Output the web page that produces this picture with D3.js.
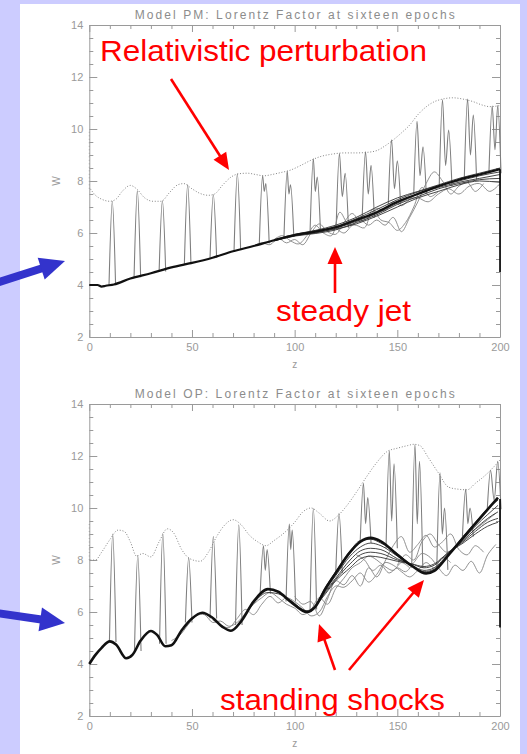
<!DOCTYPE html>
<html lang="en">
<head>
  <meta charset="UTF-8" />
  <title>Lorentz Factor at sixteen epochs</title>
  <script src="https://cdn.jsdelivr.net/npm/d3@7"></script>
  <style>
    body { margin: 0; background: #ccccff; }
    svg { display: block; }
    .axis text { font-family: "Liberation Sans", Arial, sans-serif; font-size: 11px; fill: #9a9a9a; }
    .axis path, .axis line { stroke: #9a9a9a; stroke-width: 1; }
  </style>
</head>
<body>
<svg id="chart" width="527" height="754"></svg>
<script>
// ---- ticks ----
const zTicks = [0, 50, 100, 150, 200];
const zMinorTicks = [10, 20, 30, 40, 60, 70, 80, 90, 110, 120, 130, 140, 160, 170, 180, 190];
const wTicks = [2, 4, 6, 8, 10, 12, 14];
const wMinorTicks = [2.5, 3, 3.5, 4.5, 5, 5.5, 6.5, 7, 7.5, 8.5, 9, 9.5, 10.5, 11, 11.5, 12.5, 13, 13.5];

const pmTitle = "Model PM: Lorentz Factor at sixteen epochs";
const opTitle = "Model OP: Lorentz Factor at sixteen epochs";

// ---- Model PM (top) ----
const pmEnvelope = [[0.5,7.7],[3,7.45],[6,7.3],[10,7.22],[13,7.3],[16,7.6],[20,7.83],[23,7.7],[27,7.35],[31,7.22],[35,7.22],[39,7.55],[43,7.85],[46,7.9],[50,7.7],[54,7.52],[58,7.45],[61,7.5],[65,7.85],[69,8.15],[73,8.28],[77,8.3],[81,8.25],[85,8.2],[89,8.25],[93,8.32],[98,8.42],[103,8.6],[108,8.8],[113,8.95],[118,9.03],[124,9.08],[130,9.08],[135,9.1],[140,9.17],[144,9.35],[148,9.58],[152,9.85],[156,10.15],[160,10.55],[164,10.85],[168,11.05],[172,11.15],[177,11.2],[182,11.15],[187,11.05],[191,10.93],[195,10.86],[200,10.9]];
const pmEnvelopeEdge = [[0, 7.7], [0, 9.9]];
const pmSteady = [[0,4.0],[4,4.0],[6,3.94],[8,3.97],[12,4.02],[20,4.25],[30,4.45],[40,4.68],[50,4.85],[60,5.05],[70,5.3],[80,5.5],[90,5.72],[100,5.92],[110,6.05],[120,6.22],[130,6.5],[140,6.8],[150,7.2],[160,7.5],[170,7.8],[180,8.05],[190,8.25],[200,8.45]];
const pmBand = [
  [[90,5.74],[100,5.95],[110,6.1],[120,6.3],[130,6.6],[140,7.0],[150,7.35],[160,7.6],[170,7.85],[180,8.1],[190,8.3],[200,8.5]],
  [[90,5.7],[100,5.9],[110,6.0],[120,6.18],[130,6.45],[140,6.75],[150,7.15],[160,7.5],[170,7.75],[180,7.95],[190,8.1],[200,8.25]],
  [[90,5.7],[100,5.88],[110,5.98],[120,6.12],[130,6.4],[140,6.7],[150,7.1],[160,7.4],[170,7.7],[180,7.9],[190,8.05],[200,8.1]],
  [[90,5.72],[100,5.9],[110,6.02],[120,6.15],[130,6.35],[140,6.65],[150,7.0],[160,7.35],[170,7.6],[180,7.85],[190,8.0],[200,7.95]],
  [[100,5.93],[110,6.08],[120,6.25],[130,6.55],[140,6.9],[150,7.28],[160,7.58],[170,7.82],[180,8.0],[190,8.2],[200,8.35]]
];
const pmWiggles = [
  [[80,5.5],[84,5.62],[88,5.55],[92,5.8],[96,5.62],[100,5.75],[104,5.55],[108,6.0],[112,6.35],[116,6.05],[120,5.95],[124,6.4],[128,6.75],[132,6.45],[136,6.6],[140,6.95],[144,6.85],[148,7.2],[152,7.05],[156,7.3],[160,7.55]],
  [[90,5.75],[94,5.9],[98,5.7],[102,5.58],[106,5.9],[110,6.3],[114,6.0],[118,5.9],[122,6.8],[126,6.35],[130,6.3],[134,6.2],[138,6.9],[142,6.5],[146,6.4],[150,6.1],[154,6.4],[158,7.0],[162,7.75],[166,7.4],[170,7.6]],
  [[120,6.2],[124,6.0],[128,6.3],[132,6.5],[136,6.3],[140,6.5],[144,6.3],[148,6.6],[152,6.05],[156,6.6],[160,7.2],[164,7.9],[168,8.35],[172,8.0],[176,7.5],[180,7.8],[184,7.95],[188,7.6],[192,7.9]],
  [[150,7.1],[155,7.3],[160,7.35],[165,7.2],[170,7.5],[175,7.7],[180,7.5],[185,7.8],[190,7.9],[195,7.6],[200,7.9]]
];
// [z, foot, peak] or [z, foot, peak, dip, z2, peak2]
const pmSpikes = [
  [11.2,4.0,7.22],[23.4,4.3,7.62],[35.6,4.52,7.25],[47.9,4.8,7.85],[60.4,5.05,7.48],[72.1,5.35,8.28],
  [84.4,5.6,8.2,7.6,86.0,7.9],[96.4,5.85,8.38,7.5,98.0,7.85],[109.1,6.02,8.85,7.6,111.0,8.15],
  [121.8,6.2,9.06,7.4,124.6,8.3],[134.5,6.6,9.12,7.5,137.2,8.6],[147.2,7.1,9.58,7.7,150.0,8.78],
  [159.6,7.5,10.3,8.2,162.5,9.32],[172.0,7.8,11.12,8.6,175.0,9.96],[184.2,8.05,11.15,9.0,187.0,10.54],
  [196.2,8.3,10.88,9.2,198.9,10.9]
];
const pmEdge = [[200, 8.45], [200, 4.5]];

// ---- Model OP (bottom) ----
const opEnvelope = [[0.5,8.0],[3,8.0],[6,8.3],[10,8.78],[14,9.15],[17,9.1],[20,8.7],[23,8.15],[26,8.25],[30,8.12],[34,8.7],[38,9.2],[41,9.05],[45,8.4],[49,8.05],[54,7.95],[58,8.3],[62,8.9],[66,9.35],[70,9.55],[74,9.35],[78,8.95],[82,8.7],[86,8.55],[90,8.75],[95,9.05],[100,9.45],[104,9.85],[108,10.0],[112,9.8],[117,9.5],[121,9.7],[125,10.05],[130,10.6],[135,11.2],[140,11.75],[145,12.17],[150,12.3],[155,12.4],[158,12.45],[161,12.4],[165,11.95],[170,11.35],[175,10.8],[180,10.72],[184,10.7],[188,10.95],[192,11.2],[196,11.5],[200,11.85]];
const opEnvelopeEdge = [[0, 8.0], [0, 9.4]];
const opSteady = [[0,4.0],[3,4.35],[6,4.62],[10,4.87],[13,4.75],[18,4.22],[21,4.35],[25,4.9],[30,5.27],[33,5.12],[37,4.68],[40,4.72],[45,5.3],[50,5.75],[55,5.97],[60,5.78],[65,5.42],[69,5.28],[74,5.65],[80,6.4],[87,6.88],[92,6.78],[98,6.4],[106,6.0],[110,6.2],[115,6.9],[120,7.5],[127,8.3],[132,8.7],[137,8.85],[142,8.72],[150,8.2],[157,7.78],[164,7.48],[168,7.58],[175,8.2],[182,8.85],[188,9.4],[194,9.95],[199,10.4]];
const opBand = [
  [[110,6.2],[115,6.85],[120,7.4],[127,8.15],[132,8.5],[137,8.65],[142,8.55],[150,8.15],[157,7.8],[163,7.55],[168,7.65],[175,8.2],[182,8.8],[188,9.3],[194,9.75],[199,10.1]],
  [[110,6.2],[115,6.8],[120,7.3],[127,8.0],[132,8.35],[137,8.45],[142,8.4],[150,8.05],[157,7.8],[163,7.6],[168,7.7],[175,8.25],[182,8.75],[188,9.2],[194,9.6],[199,9.85]],
  [[110,6.2],[115,6.75],[120,7.25],[127,7.85],[132,8.2],[137,8.3],[142,8.25],[150,8.0],[157,7.85],[163,7.7],[168,7.8],[175,8.3],[182,8.7],[188,9.1],[194,9.45],[199,9.6]],
  [[110,6.2],[115,6.7],[120,7.2],[127,7.7],[132,8.05],[137,8.15],[142,8.1],[150,7.95],[157,7.85],[163,7.75],[168,7.85],[175,8.3],[182,8.65],[188,9.0],[194,9.3],[199,9.45]],
  [[80,6.35],[87,6.75],[92,6.7],[98,6.45],[106,6.05],[110,6.25],[115,6.95],[120,7.55],[127,8.35],[132,8.75],[137,8.8],[142,8.65],[150,8.25],[157,7.8],[164,7.52],[168,7.62],[175,8.22],[182,8.9],[188,9.45],[194,9.98],[199,10.3]]
];
const opWiggles = [
  [[40,4.9],[44,5.1],[48,5.5],[52,5.85],[56,5.9],[60,5.6],[64,5.65],[68,5.45],[72,5.6],[76,5.95],[80,6.3],[84,6.55],[88,6.75],[92,6.55],[96,6.3],[100,6.15],[104,5.9],[108,6.1],[112,6.55],[116,6.3],[120,6.9],[124,7.3],[128,7.7],[132,7.9],[136,8.15],[140,8.0],[144,7.75],[148,7.6],[152,7.9],[156,7.7]],
  [[60,5.7],[64,5.5],[68,5.4],[72,5.75],[76,6.1],[80,5.9],[84,6.3],[88,6.6],[92,6.35],[96,6.55],[100,6.4],[104,6.15],[108,5.85],[112,6.0],[116,6.6],[120,7.0],[124,6.95],[128,7.2],[132,7.5],[136,7.15],[140,7.45],[144,7.9],[148,7.8],[152,7.55],[156,7.35],[160,7.6],[164,7.9],[168,7.7],[172,8.1],[176,7.9]],
  [[100,6.6],[104,6.3],[108,6.4],[112,5.85],[116,6.5],[120,7.2],[124,7.05],[128,7.4],[132,7.0],[136,7.7],[140,7.35],[144,7.95],[148,8.55],[152,8.9],[156,8.3],[160,8.6],[164,8.95],[168,8.5],[172,8.7],[176,9.0],[180,8.4],[184,8.2],[188,8.55],[192,8.3]],
  [[130,8.2],[134,8.0],[138,7.6],[142,7.8],[146,7.5],[150,7.7],[154,7.55],[158,7.9],[162,8.25],[166,8.1],[170,7.7],[174,7.4],[178,7.8],[182,7.6],[186,7.95],[190,7.5],[194,8.2],[198,8.6]],
  [[150,7.8],[154,8.2],[158,8.0],[162,8.7],[166,9.0],[170,8.6],[174,8.3],[178,8.5],[182,8.75],[186,9.05],[190,9.3],[194,9.55],[198,9.8]]
];
const opSpikes = [
  [11.4,4.85,9.0],[23.6,4.5,8.18],[35.8,4.78,9.02],[48.4,5.6,8.08],[60.4,5.75,8.9],[72.8,5.5,9.35],
  [84.8,6.7,8.55,7.6,86.6,8.4],[97.4,6.4,9.38,8.4,98.8,9.15],[109.1,6.1,9.98],[121.6,7.5,9.8],
  [133.5,8.65,10.95,9.4,135.6,10.4],[146.1,8.45,12.2,9.5,148.4,11.7],[158.6,7.7,12.44,9.4,160.8,11.8],
  [170.8,7.62,11.35,9.0,173.0,10.0],[183.3,8.9,10.72,9.4,185.4,10.0],[195.4,9.95,11.45,10.3,198.9,11.8]
];
const opEdge = [[200, 10.35], [200, 5.4]];

// ---- drawing ----
const svg = d3.select("#chart");

svg.append("rect")
  .attr("x", 20).attr("y", 4)
  .attr("width", 500).attr("height", 760)
  .attr("fill", "#ffffff");

const x = d3.scaleLinear().domain([0, 200]).range([89.3, 500]);

function drawPanel(p) {
  const y = d3.scaleLinear().domain([2, 14]).range([p.bottom, p.top]);
  const g = svg.append("g");

  const smooth = d3.line().x(d => x(d[0])).y(d => y(d[1])).curve(d3.curveMonotoneX);
  const wavy = d3.line().x(d => x(d[0])).y(d => y(d[1])).curve(d3.curveCatmullRom);
  const straight = d3.line().x(d => x(d[0])).y(d => y(d[1]));

  // box axes: ticks point inward on all four sides, labels only bottom and left
  const sides = [
    [() => d3.axisBottom(x), `translate(0,${p.bottom})`, zTicks, zMinorTicks, 7, true],
    [() => d3.axisTop(x), `translate(0,${p.top})`, zTicks, zMinorTicks, 7, false],
    [() => d3.axisLeft(y), `translate(${x(0)},0)`, wTicks, wMinorTicks, 8, true],
    [() => d3.axisRight(y), `translate(${x(200)},0)`, wTicks, wMinorTicks, 8, false]
  ];
  sides.forEach(([make, tr, major, minor, len, labels]) => {
    g.append("g").attr("class", "axis").attr("transform", tr)
      .call(make().tickValues(major).tickSize(-len).tickSizeOuter(0)
        .tickPadding(6).tickFormat(labels ? d3.format("d") : ""));
    g.append("g").attr("class", "axis").attr("transform", tr)
      .call(make().tickValues(minor).tickSize(-4).tickFormat(""))
      .call(s => s.select(".domain").remove());
  });

  g.append("text")
    .attr("x", x(100)).attr("y", p.titleY)
    .attr("text-anchor", "middle")
    .attr("textLength", 320).attr("lengthAdjust", "spacing")
    .attr("font-family", "Liberation Sans, Arial, sans-serif")
    .attr("font-size", 12).attr("fill", "#8c8c8c")
    .text(p.title);
  g.append("text")
    .attr("x", x(100)).attr("y", p.bottom + 31)
    .attr("text-anchor", "middle")
    .attr("font-family", "Liberation Sans, Arial, sans-serif")
    .attr("font-size", 10).attr("fill", "#9a9a9a")
    .text("z");
  g.append("text")
    .attr("transform", `translate(60,${y(8)}) rotate(-90)`)
    .attr("text-anchor", "middle")
    .attr("font-family", "Liberation Sans, Arial, sans-serif")
    .attr("font-size", 10).attr("fill", "#9a9a9a")
    .text("W");

  const plot = g.append("g");

  // dotted envelope of the perturbation
  plot.append("path").datum(p.envelope)
    .attr("d", smooth)
    .attr("fill", "none").attr("stroke", "#858585")
    .attr("stroke-width", 1).attr("stroke-dasharray", "1,1.8");
  plot.append("path").datum(p.envelopeEdge)
    .attr("d", straight)
    .attr("fill", "none").attr("stroke", "#9a9a9a")
    .attr("stroke-width", 1).attr("stroke-dasharray", "1,2.5");

  // perturbation spikes, one per epoch
  p.spikes.forEach(s => {
    const [z, foot, peak, dip, z2, peak2] = s;
    const pts = s.length > 3
      ? [[z - 1.6, foot], [z, peak], [(z + z2) / 2, dip], [z2, peak2], [z2 + 1.6, foot]]
      : [[z - 1.6, foot], [z, peak], [z + 1.6, foot]];
    plot.append("path").datum(pts)
      .attr("d", smooth)
      .attr("fill", "none").attr("stroke", "#7e7e7e").attr("stroke-width", 1.1);
  });

  // gray disturbed epochs
  p.wiggles.forEach(d => {
    plot.append("path").datum(d)
      .attr("d", wavy)
      .attr("fill", "none").attr("stroke", "#858585").attr("stroke-width", 0.9);
  });

  // dark band of nearly coincident epochs
  p.band.forEach(d => {
    plot.append("path").datum(d)
      .attr("d", smooth)
      .attr("fill", "none").attr("stroke", "#333333").attr("stroke-width", 0.9);
  });
  plot.append("path").datum(p.steady)
    .attr("d", smooth)
    .attr("fill", "none").attr("stroke", "#111111").attr("stroke-width", p.steadyWidth);
  plot.append("path").datum(p.edge)
    .attr("d", straight)
    .attr("fill", "none").attr("stroke", "#000").attr("stroke-width", 1.6);
}

drawPanel({ top: 25, bottom: 337, titleY: 19, title: pmTitle,
  envelope: pmEnvelope, envelopeEdge: pmEnvelopeEdge, steady: pmSteady, band: pmBand,
  wiggles: pmWiggles, spikes: pmSpikes, edge: pmEdge, steadyWidth: 2.2 });
drawPanel({ top: 404, bottom: 716, titleY: 398, title: opTitle,
  envelope: opEnvelope, envelopeEdge: opEnvelopeEdge, steady: opSteady, band: opBand,
  wiggles: opWiggles, spikes: opSpikes, edge: opEdge, steadyWidth: 2.6 });

// ---- annotations ----
function arrow(x1, y1, x2, y2, w, headLen, headW, color) {
  const dx = x2 - x1, dy = y2 - y1, len = Math.hypot(dx, dy);
  const ux = dx / len, uy = dy / len, nx = -uy, ny = ux;
  const bx = x2 - ux * headLen, by = y2 - uy * headLen;
  svg.append("line")
    .attr("x1", x1).attr("y1", y1).attr("x2", bx + ux).attr("y2", by + uy)
    .attr("stroke", color).attr("stroke-width", w);
  svg.append("polygon")
    .attr("points", [[x2, y2], [bx + nx * headW / 2, by + ny * headW / 2], [bx - nx * headW / 2, by - ny * headW / 2]].join(" "))
    .attr("fill", color);
}

function note(text, x0, y0, width) {
  svg.append("text")
    .attr("x", x0).attr("y", y0)
    .attr("textLength", width).attr("lengthAdjust", "spacingAndGlyphs")
    .attr("font-family", "Liberation Sans, Arial, sans-serif")
    .attr("font-size", 29).attr("fill", "#ff0000")
    .text(text);
}

note("Relativistic perturbation", 100, 61, 327);
arrow(171, 79, 229, 170, 2.6, 17, 15, "#ff0000");
note("steady jet", 276, 321, 135);
arrow(335, 293, 335, 247, 2.6, 17, 15, "#ff0000");
note("standing shocks", 220, 710, 225);
arrow(335, 670, 319, 624, 2.6, 17, 15, "#ff0000");
arrow(349, 670, 424, 580, 2.6, 17, 15, "#ff0000");

arrow(-4, 283, 65, 261, 8, 25, 23, "#3333cc");
arrow(-4, 613, 65, 623, 8, 25, 24, "#3333cc");
</script>
</body>
</html>
